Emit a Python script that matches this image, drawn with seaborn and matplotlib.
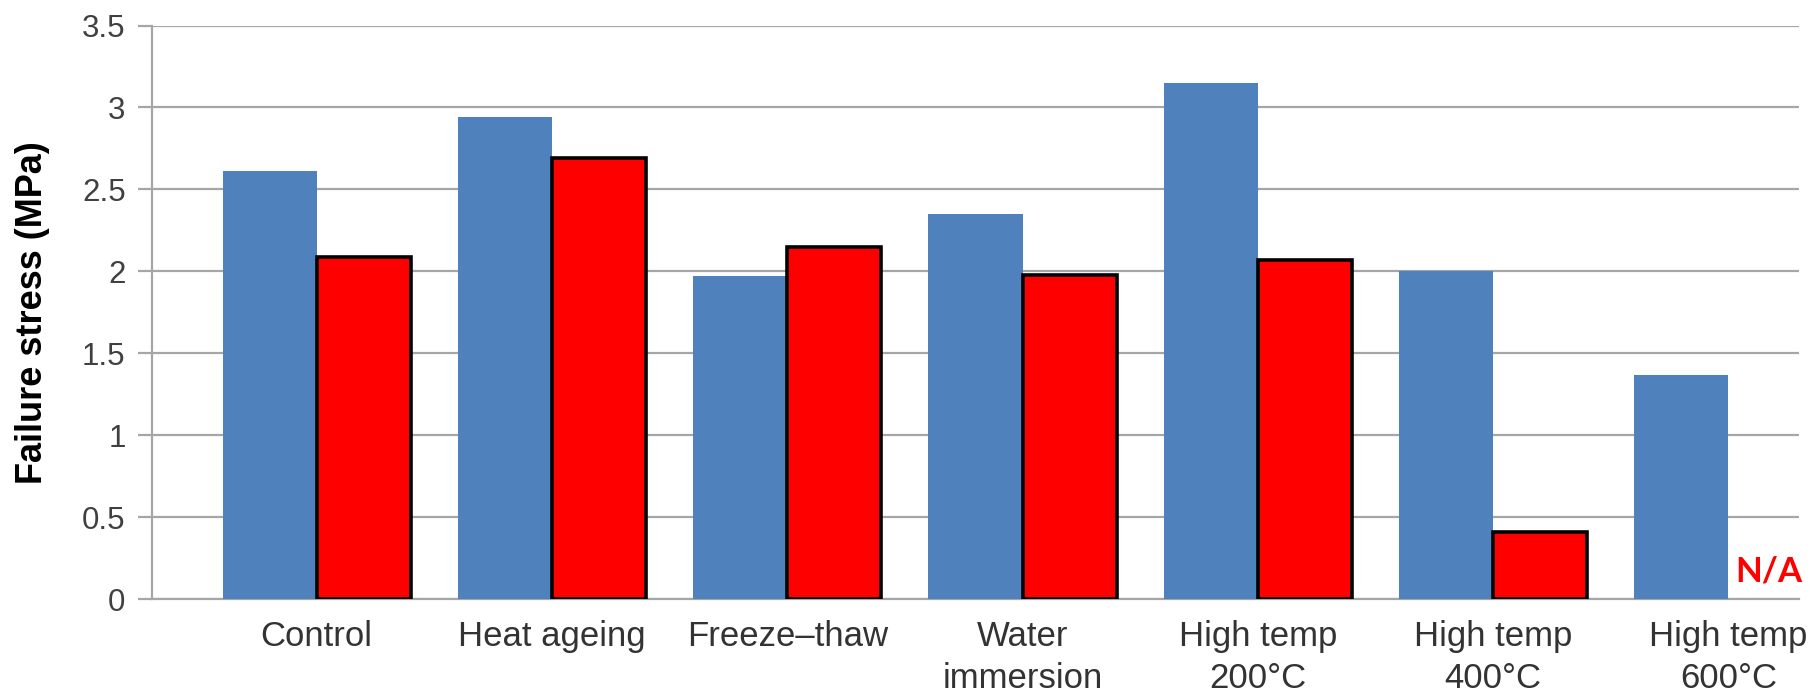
import matplotlib
matplotlib.use("Agg")
import matplotlib.pyplot as plt
import seaborn as sns
import numpy as np
import pandas as pd

categories = ["Control", "Heat ageing", "Freeze\u2013thaw", "Water\nimmersion",
              "High temp\n200\u00b0C", "High temp\n400\u00b0C", "High temp\n600\u00b0C"]
blue_values = [2.61, 2.94, 1.97, 2.35, 3.15, 2.00, 1.37]
red_values = [2.09, 2.69, 2.15, 1.98, 2.07, 0.41, np.nan]
series_names = ["Series A", "Series B"]
yticks = [0, 0.5, 1, 1.5, 2, 2.5, 3, 3.5]
ytick_labels = ["0", "0.5", "1", "1.5", "2", "2.5", "3", "3.5"]
na_label = "N/A"

sns.set_theme(style="white")
plt.rcParams['font.family'] = ['Liberation Sans', 'DejaVu Sans']

df = pd.DataFrame({
    "category": categories * 2,
    "series": [series_names[0]] * len(categories) + [series_names[1]] * len(categories),
    "value": blue_values + red_values,
})

fig = plt.figure(figsize=(18.14, 6.97), dpi=100)
ax = fig.add_axes([0.0838, 0.1402, 0.9079, 0.8232])

sns.barplot(data=df, x="category", y="value", hue="series", order=categories,
            hue_order=series_names, palette=["#4F81BD", "#FF0000"],
            width=0.8, gap=0, saturation=1, ax=ax, legend=False, zorder=3)

# red bars with black outline, drawn on top
for p in ax.containers[1]:
    p.set_edgecolor("black")
    p.set_linewidth(2.6)
    p.set_zorder(4)
for p in ax.containers[0]:
    p.set_linewidth(0)

ax.set_ylim(0, 3.5)
ax.set_xlim(-0.70, 6.30)
ax.set_yticks(yticks)
ax.set_yticklabels(ytick_labels)
ax.yaxis.grid(True, color="#A6A6A6", linewidth=1.6, zorder=0)
ax.xaxis.grid(False)
ax.set_axisbelow(True)

for s in ["top", "right"]:
    ax.spines[s].set_visible(False)
ax.spines["left"].set_color("#A6A6A6")
ax.spines["left"].set_linewidth(1.6)
ax.spines["bottom"].set_color("#A6A6A6")
ax.spines["bottom"].set_linewidth(1.6)

ax.tick_params(axis="y", which="both", left=True, length=10, width=1.6,
               color="#A6A6A6", pad=9, labelsize=22.5, labelcolor="#404040")
ax.tick_params(axis="x", which="both", bottom=False, length=0, pad=15,
               labelsize=25, labelcolor="#333333")
for t in ax.get_xticklabels():
    t.set_linespacing(1.35)

ax.set_xlabel("")
ax.set_ylabel("Failure stress (MPa)", fontsize=26, fontweight="bold", color="black")
ax.yaxis.set_label_coords(-0.062, 0.5)

ax.text(6.17, 0.17, na_label, color="#FF0000", fontsize=25, fontweight="bold",
        ha="center", va="center", family=["Lato", "DejaVu Sans"], zorder=5)

fig.savefig("out.png", dpi=100, facecolor="white")
